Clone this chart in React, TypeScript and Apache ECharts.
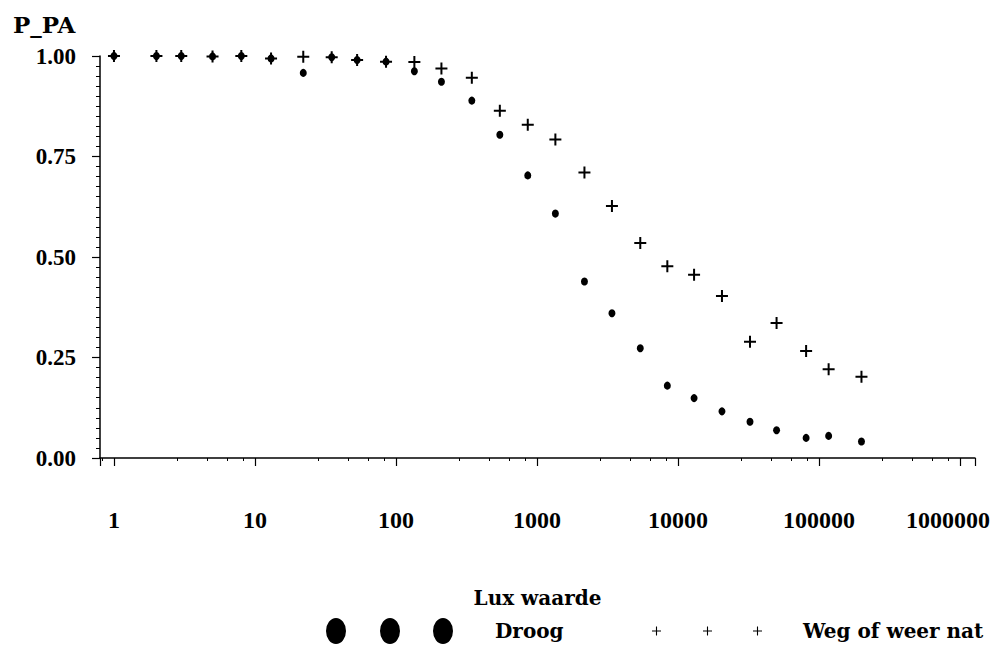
import React, { useEffect, useRef } from 'react';
import * as echarts from 'echarts';

// Lux classes (x) shared by both series
const lux = [1, 2, 3, 5, 8, 13, 22, 35, 53, 85, 135, 210, 345, 545, 860, 1350, 2170, 3400, 5400, 8400, 13000, 20500, 32400, 50000, 81000, 117000, 200000];
// P_PA for "Droog"
const droog = [1.0, 1.0, 1.0, 0.999, 1.0, 0.994, 0.958, 0.997, 0.99, 0.986, 0.962, 0.936, 0.889, 0.804, 0.703, 0.608, 0.439, 0.36, 0.273, 0.18, 0.149, 0.116, 0.09, 0.069, 0.05, 0.055, 0.041];
// P_PA for "Weg of weer nat"
const nat = [1.0, 1.0, 1.0, 0.999, 1.0, 0.994, 0.998, 0.997, 0.99, 0.986, 0.985, 0.969, 0.946, 0.864, 0.829, 0.792, 0.71, 0.627, 0.535, 0.477, 0.456, 0.403, 0.289, 0.336, 0.266, 0.221, 0.202];

const seriesNames = ['Droog', 'Weg of weer nat'];
const yTickStep = 0.25;

const numFont = '"Liberation Serif", "DejaVu Serif", serif';
const wordFont = '"DejaVu Serif", "Liberation Serif", serif';

function plusPath(cx: number, cy: number, h: number, t: number) {
  return `M${cx - h},${cy - t} H${cx + h} V${cy + t} H${cx - h} Z M${cx - t},${cy - h} H${cx + t} V${cy + h} H${cx - t} Z`;
}
function ellipsePath(cx: number, cy: number, rx: number, ry: number) {
  return `M${cx - rx},${cy} a${rx},${ry} 0 1,0 ${2 * rx},0 a${rx},${ry} 0 1,0 ${-2 * rx},0 Z`;
}

const plusSymbol = 'path://' + plusPath(6, 6, 6, 1);
const dotsIcon = 'path://' + [10, 64, 117].map((c) => ellipsePath(c, 13, 10, 13)).join(' ');
const plusIcon = 'path://' + [4.5, 55.5, 105.5].map((c) => plusPath(c, 4.5, 4.5, 0.55)).join(' ');

export default function App() {
  const ref = useRef<HTMLDivElement>(null);
  useEffect(() => {
    const chart = echarts.init(ref.current!, null, { renderer: 'svg' });
    const wordStyle = { fontFamily: wordFont, fontWeight: 'bold' as const, fontSize: 20, color: '#000' };
    chart.setOption({
      animation: false,
      backgroundColor: '#fff',
      title: {
        text: 'P_PA',
        left: 8,
        top: 8,
        textStyle: { fontFamily: wordFont, fontWeight: 'bold', fontSize: 23, color: '#000' },
      },
      grid: { left: 100, right: 19, top: 56, bottom: 188, containLabel: false, outerBoundsMode: 'none' },
      xAxis: {
        type: 'log',
        logBase: 10,
        min: 0.796,
        max: 1277000,
        offset: 12,
        axisLine: { lineStyle: { color: '#000', width: 1.5 } },
        axisTick: { length: 8, lineStyle: { color: '#000', width: 1.2 } },
        minorTick: { show: true, splitNumber: 5, length: 3, lineStyle: { color: '#000', width: 1 } },
        splitLine: { show: false },
        axisLabel: {
          margin: 38,
          fontFamily: numFont,
          fontWeight: 'bold',
          fontSize: 24,
          color: '#000',
          showMinLabel: false,
          showMaxLabel: false,
          formatter: (v: number) => {
            const s = String(Math.round(v));
            return v > 999999 ? '{last|' + s + '}' : s;
          },
          rich: {
            last: { fontFamily: numFont, fontWeight: 'bold', fontSize: 24, color: '#000', padding: [0, 24, 0, 0] },
          },
        },
        name: 'Lux waarde',
        nameLocation: 'middle',
        nameGap: 118,
        nameTextStyle: wordStyle,
      },
      yAxis: {
        type: 'value',
        min: 0,
        max: 1,
        interval: yTickStep,
        axisLine: { show: true, lineStyle: { color: '#000', width: 1.5 } },
        axisTick: { show: true, length: 8, lineStyle: { color: '#000', width: 1.2 } },
        minorTick: { show: true, splitNumber: 10, length: 4, lineStyle: { color: '#000', width: 1 } },
        splitLine: { show: false },
        axisLabel: {
          margin: 24,
          fontFamily: numFont,
          fontWeight: 'bold',
          fontSize: 23,
          color: '#000',
          formatter: (v: number) => v.toFixed(2),
        },
      },
      legend: [
        {
          data: [{ name: seriesNames[0], icon: dotsIcon }],
          left: 321,
          top: 613,
          itemWidth: 127,
          itemHeight: 26,
          selectedMode: false,
          textStyle: { ...wordStyle, padding: [0, 0, 0, 37], lineHeight: 26 },
        },
        {
          data: [{ name: seriesNames[1], icon: plusIcon }],
          left: 647,
          top: 613,
          itemWidth: 110,
          itemHeight: 9,
          selectedMode: false,
          textStyle: { ...wordStyle, padding: [0, 0, 0, 36], lineHeight: 26 },
        },
      ],
      series: [
        {
          type: 'scatter',
          name: seriesNames[0],
          data: lux.map((x, i) => [x, droog[i]]),
          symbol: 'circle',
          symbolSize: [7, 8],
          itemStyle: { color: '#000', opacity: 1 },
        },
        {
          type: 'scatter',
          name: seriesNames[1],
          data: lux.map((x, i) => [x, nat[i]]),
          symbol: plusSymbol,
          symbolSize: 12,
          itemStyle: { color: '#000', opacity: 1 },
        },
      ],
    });
    return () => chart.dispose();
  }, []);
  return <div ref={ref} style={{ position: 'fixed', left: 0, top: 0, width: 994, height: 646 }} />;
}
